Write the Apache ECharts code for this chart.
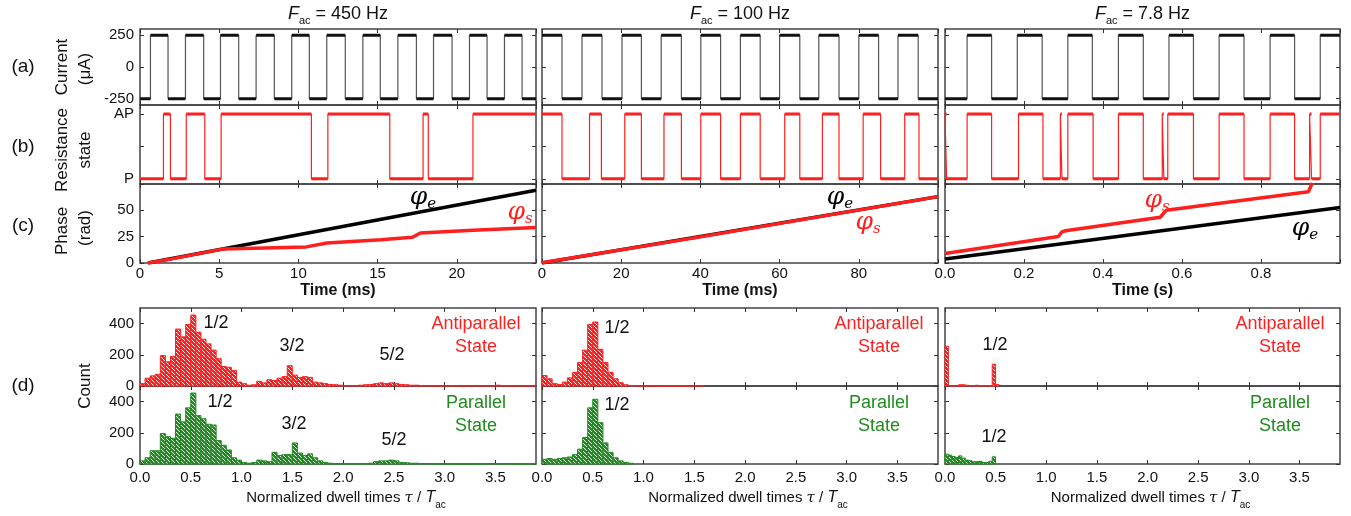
<!DOCTYPE html>
<html>
<head>
<meta charset="utf-8">
<script src="https://cdn.jsdelivr.net/npm/echarts@6/dist/echarts.min.js"></script>
<style>
  html, body { margin: 0; padding: 0; background: #fff; }
  #chart { width: 1351px; height: 516px; }
</style>
</head>
<body>
<div id="chart"></div>
<script>
// ---- data ----
const freqLabels = ['450 Hz', '100 Hz', '7.8 Hz'];
const timeTitles = ['Time (ms)', 'Time (ms)', 'Time (s)'];
const timeMax = [25, 100, 1.0];
const timeTicks = [[0, 5, 10, 15, 20, 25], [0, 20, 40, 60, 80, 100], [0, 0.2, 0.4, 0.6, 0.8, 1.0]];
const timeTickLabels = [[0, 5, 10, 15, 20], [0, 20, 40, 60, 80], [0, 0.2, 0.4, 0.6, 0.8]];

// (a) drive current: switching times, level toggles at each one
const currentLevels = [-250, 250];
const currentStartHigh = [false, true, false];
const currentEdges450 = [0.66, 1.77, 2.87, 4.02, 5.08, 6.23, 7.33, 8.48, 9.58, 10.69, 11.79, 12.96, 14.07, 15.17, 16.28, 17.45, 18.53, 19.70, 20.80, 21.91, 23.01, 24.12];
const currentEdges100 = [5.05, 10.1, 15.15, 20.2, 25.1, 30.1, 35.2, 40.1, 45.1, 50.1, 55.1, 60.0, 65.1, 69.9, 75.0, 80.0, 85.0, 89.9, 95.0];
const currentEdges78 = [0.056, 0.118, 0.183, 0.246, 0.311, 0.373, 0.439, 0.502, 0.567, 0.629, 0.694, 0.757, 0.823, 0.885, 0.95];

// (b) resistance state: P = 0, AP = 1
const stateStartAP = [false, true, true];
const stateEdges450 = [1.48, 1.92, 2.92, 4.09, 5.12, 10.82, 11.86, 15.77, 17.87, 18.20, 21.02];
const stateEdges100 = [5.05, 12.0, 15.0, 20.9, 25.1, 30.8, 35.2, 40.1, 45.1, 50.1, 55.1, 61.3, 65.1, 70.8, 75.0, 81.1, 85.5, 91.6, 95.2];
const stateEdges78 = [0.004, 0.056, 0.118, 0.186, 0.248, 0.292, 0.296, 0.311, 0.375, 0.439, 0.502, 0.55, 0.554, 0.564, 0.629, 0.694, 0.757, 0.823, 0.885, 0.923, 0.928, 0.95];

// (c) phases [time, rad]
const phiE450 = [[0.5, 0], [25, 69]];
const phiS450 = [[0.5, 0], [2, 3.9], [5.2, 13.2], [10.5, 15.3], [11.8, 19], [15.2, 22], [17.2, 24.5], [17.7, 28.5], [21, 31], [25, 33.8]];
const phiE100 = [[0, 0], [100, 63]];
const phiS100 = [[0, 0.3], [40, 24.8], [100, 63]];
const phiE78 = [[0, 3.9], [1.0, 52.6]];
const phiS78 = [[0, 9], [0.287, 25.2], [0.296, 29.5], [0.305, 30.6], [0.545, 43.5], [0.56, 50], [0.92, 67.7], [0.93, 76]];

// (d) dwell-time histograms, counts per bin starting at 0
const binWidth = [0.05, 0.05, 0.0333];
const histAP450 = [15, 50, 65, 75, 195, 155, 190, 365, 315, 395,
  455, 345, 300, 270, 230, 175, 125, 120, 100, 25,
  15, 5, 8, 30, 20, 40, 35, 50, 60, 130,
  70, 55, 60, 55, 25, 20, 15, 10, 8, 5,
  2, 3, 3, 5, 8, 10, 15, 20, 15, 20,
  15, 10, 8, 5, 5, 3, 2, 0, 0, 2,
  0, 3, 2, 0, 2, 3, 2, 0, 3, 2,
  5, 3, 2, 0, 3, 2, 0, 0];
const histP450 = [20, 40, 85, 85, 195, 175, 165, 320, 270, 360,
  455, 310, 290, 255, 250, 150, 120, 90, 40, 25,
  10, 5, 10, 25, 20, 15, 75, 55, 60, 60,
  135, 70, 55, 65, 40, 20, 10, 5, 3, 2,
  0, 2, 0, 3, 2, 5, 15, 20, 20, 25,
  20, 10, 8, 5, 5, 3, 2, 2, 0, 0,
  0, 0, 0, 0, 0, 0, 0, 0, 2, 3,
  3, 0, 3, 0, 0, 0, 0, 0];
const histAP100 = [67, 46, 15, 10, 25, 52, 88, 150, 230, 395, 410, 235, 150, 88, 46, 21, 8, 3, 2, 2,
  0, 0, 0, 0, 0, 0, 0, 0, 0, 0, 0, 3];
const histP100 = [30, 35, 30, 35, 40, 45, 60, 95, 170, 360, 415, 265, 135, 75, 40, 20, 10, 5];
const histAP78 = [255, 3, 3, 3, 8, 8, 5, 3, 3, 5, 3, 3, 3, 3, 140, 10];
const histP78 = [63, 57, 48, 42, 52, 38, 25, 21, 15, 15, 17, 10, 10, 17, 46];
const histTicks = [0, 0.5, 1.0, 1.5, 2.0, 2.5, 3.0, 3.5];
const countTicks = [0, 200, 400];

// ---- layout / style ----
const colLeft = [140, 542, 945];
const colWidth = [396, 396, 395];
const rowTop = [29, 105, 184, 308, 386];
const rowHeight = [76, 79, 79, 78, 78];
const RED = '#ff1f1f';
const GREEN = '#1e8c1e';
const FONT = 'Liberation Sans';
const labelFont = { fontFamily: FONT, fontSize: 15, color: '#111' };

function hatch(color) {
  const c = document.createElement('canvas');
  c.width = 4; c.height = 4;
  const g = c.getContext('2d');
  g.fillStyle = color;
  g.fillRect(0, 0, 4, 4);
  g.strokeStyle = 'rgba(255,255,255,0.9)';
  g.lineWidth = 1;
  g.beginPath();
  g.moveTo(0, 0); g.lineTo(4, 4);
  g.moveTo(-1, 3); g.lineTo(1, 5);
  g.moveTo(3, -1); g.lineTo(5, 1);
  g.stroke();
  return { image: c, repeat: 'repeat' };
}

function toSteps(edges, startHigh, levels, xmax) {
  let hi = startHigh;
  const pts = [[0, levels[hi ? 1 : 0]]];
  edges.forEach(t => {
    pts.push([t, levels[hi ? 1 : 0]]);
    hi = !hi;
    pts.push([t, levels[hi ? 1 : 0]]);
  });
  pts.push([xmax, levels[hi ? 1 : 0]]);
  return pts;
}

// flat parts only (pairs of step points), broken apart with '-'
function flatParts(pts) {
  const out = [];
  for (let i = 0; i + 1 < pts.length; i += 2) {
    out.push(pts[i], pts[i + 1], '-');
  }
  return out;
}

function toBins(counts, w) {
  return counts.map((c, i) => [i * w, (i + 1) * w, c]);
}

const grids = [], xAxes = [], yAxes = [], series = [];
const tick = { show: true, inside: true, length: 4, lineStyle: { color: '#333', width: 1 } };

function addPanel(row, col, x, y) {
  const g = grids.length;
  grids.push({ left: colLeft[col], top: rowTop[row], width: colWidth[col], height: rowHeight[row],
    show: true, borderColor: '#444', borderWidth: 1.5, backgroundColor: 'transparent' });
  const base = { type: 'value', gridIndex: g, axisLine: { show: false, onZero: false }, splitLine: { show: false } };
  xAxes.push(Object.assign({}, base, { min: x.min, max: x.max, position: 'bottom',
    axisTick: Object.assign({}, tick, { customValues: x.ticks }),
    axisLabel: x.labels ? Object.assign({ customValues: x.labels, formatter: x.fmt, margin: x.margin }, labelFont, x.font || {}) : { show: false } }));
  xAxes.push(Object.assign({}, base, { min: x.min, max: x.max, position: 'top',
    axisTick: Object.assign({}, tick, { customValues: x.ticks }), axisLabel: { show: false } }));
  yAxes.push(Object.assign({}, base, { min: y.min, max: y.max, position: 'left',
    axisTick: Object.assign({}, tick, { customValues: y.ticks }),
    axisLabel: y.labels ? Object.assign({ customValues: y.labels, formatter: y.fmt, margin: 6 }, labelFont) : { show: false } }));
  yAxes.push(Object.assign({}, base, { min: y.min, max: y.max, position: 'right',
    axisTick: Object.assign({}, tick, { customValues: y.ticks }), axisLabel: { show: false } }));
  return g;
}

function stepSeries(g, pts, color, thinColor) {
  series.push({ type: 'line', xAxisIndex: 2 * g, yAxisIndex: 2 * g, symbol: 'none', animation: false,
    data: pts, lineStyle: { color: thinColor, width: 1.2 } });
  series.push({ type: 'line', xAxisIndex: 2 * g, yAxisIndex: 2 * g, symbol: 'none', animation: false,
    data: flatParts(pts), connectNulls: false, lineStyle: { color: color, width: 3 } });
}

const currentEdges = [currentEdges450, currentEdges100, currentEdges78];
const stateEdges = [stateEdges450, stateEdges100, stateEdges78];
const phiE = [phiE450, phiE100, phiE78];
const phiS = [phiS450, phiS100, phiS78];
const histAP = [histAP450, histAP100, histAP78];
const histP = [histP450, histP100, histP78];
const timeFmt = [v => String(v), v => String(v), v => v.toFixed(1)];

for (let col = 0; col < 3; col++) {
  const tx = { min: 0, max: timeMax[col], ticks: timeTicks[col] };
  const first = col === 0;

  // (a) current
  let g = addPanel(0, col, tx, { min: -300, max: 300, ticks: [-250, 0, 250],
    labels: first ? [-250, 0, 250] : null, fmt: v => String(v) });
  stepSeries(g, toSteps(currentEdges[col], currentStartHigh[col], currentLevels, timeMax[col]), '#111', '#555');

  // (b) state
  g = addPanel(1, col, tx, { min: -0.08, max: 1.14, ticks: [0, 0.5, 1],
    labels: first ? [0, 1] : null, fmt: v => (v === 1 ? 'AP' : 'P') });
  stepSeries(g, toSteps(stateEdges[col], stateStartAP[col], [0, 1], timeMax[col]), RED, RED);

  // (c) phase
  g = addPanel(2, col, Object.assign({}, tx, { labels: timeTickLabels[col], fmt: timeFmt[col], margin: 3 }),
    { min: 0, max: 75, ticks: [0, 25, 50, 75], labels: first ? [0, 25, 50] : null, fmt: v => String(v) });
  series.push({ type: 'line', xAxisIndex: 2 * g, yAxisIndex: 2 * g, symbol: 'none', animation: false,
    data: phiE[col], lineStyle: { color: '#000', width: 3.5 } });
  series.push({ type: 'line', xAxisIndex: 2 * g, yAxisIndex: 2 * g, symbol: 'none', animation: false,
    data: phiS[col], lineStyle: { color: RED, width: 3.5 } });

  // (d) histograms
  const hx = { min: 0, max: 3.9, ticks: histTicks };
  const hy = { min: 0, max: 500, ticks: countTicks, labels: first ? countTicks : null, fmt: v => String(v) };
  [[3, histAP[col], RED], [4, histP[col], GREEN]].forEach(([row, counts, color]) => {
    const xopt = row === 4 ? Object.assign({}, hx, { labels: histTicks, fmt: v => v.toFixed(1), margin: 6 }) : hx;
    const gi = addPanel(row, col, xopt, hy);
    const fill = hatch(color);
    series.push({ type: 'custom', xAxisIndex: 2 * gi, yAxisIndex: 2 * gi, animation: false,
      data: toBins(counts, binWidth[col]), encode: { x: [0, 1], y: 2 },
      renderItem: (params, api) => {
        const p0 = api.coord([api.value(0), api.value(2)]);
        const p1 = api.coord([api.value(1), 0]);
        return { type: 'rect', shape: { x: p0[0], y: p0[1], width: p1[0] - p0[0], height: p1[1] - p0[1] },
          style: { fill: fill, stroke: color, lineWidth: 1 } };
      } });
  });
}

// ---- text ----
const colCenter = colLeft.map((l, i) => l + colWidth[i] / 2);
const graphics = [];
function txt(x, y, text, extra, rot) {
  graphics.push({ type: 'text', x: x, y: y, rotation: rot || 0, silent: true,
    style: Object.assign({ text: text, align: 'center', verticalAlign: 'middle',
      fontFamily: FONT, fontSize: 17, fill: '#111' }, extra || {}) });
}
const subRich = {
  i: { fontFamily: FONT, fontStyle: 'italic', fontSize: 18, fill: '#111', lineHeight: 24 },
  s: { fontFamily: FONT, fontSize: 11, fill: '#111', verticalAlign: 'bottom', lineHeight: 24 },
  n: { fontFamily: FONT, fontSize: 18, fill: '#111', lineHeight: 24 }
};
freqLabels.forEach((f, i) => txt(colCenter[i], 14, '{i|F}{s|ac}{n| = ' + f + '}', { rich: subRich }));
timeTitles.forEach((t, i) => txt(colCenter[i], 291, t, { fontSize: 16, fontWeight: 'bold' }));
const dwellRich = {
  n: { fontFamily: FONT, fontSize: 15, fill: '#111', lineHeight: 20 },
  t: { fontFamily: 'DejaVu Serif', fontStyle: 'italic', fontSize: 15, fill: '#111', lineHeight: 20 },
  i: { fontFamily: FONT, fontStyle: 'italic', fontSize: 16, fill: '#111', lineHeight: 20 },
  s: { fontFamily: FONT, fontSize: 10, fill: '#111', verticalAlign: 'bottom', lineHeight: 24 }
};
colCenter.forEach(c => txt(c + 8, 498, '{n|Normalized dwell times }{t|τ}{n| / }{i|T}{s|ac}', { rich: dwellRich }));

[['(a)', 67], ['(b)', 147], ['(c)', 226], ['(d)', 386]].forEach(([t, y]) => txt(23, y, t, { fontSize: 19 }));
txt(62, 67, 'Current', {}, Math.PI / 2);
txt(85, 69, '(μA)', {}, Math.PI / 2);
txt(62, 150, 'Resistance', {}, Math.PI / 2);
txt(85, 150, 'state', {}, Math.PI / 2);
txt(62, 231, 'Phase', {}, Math.PI / 2);
txt(85, 228, '(rad)', {}, Math.PI / 2);
txt(85, 386, 'Count', {}, Math.PI / 2);

function phiRich(color) {
  return {
    p: { fontFamily: 'DejaVu Serif', fontStyle: 'italic', fontSize: 25, fill: color, lineHeight: 30 },
    s: { fontFamily: 'DejaVu Serif', fontStyle: 'italic', fontSize: 15, fill: color, verticalAlign: 'bottom', lineHeight: 30 }
  };
}
[[423, 197, 'e', '#000'], [520, 212, 's', RED], [840, 197, 'e', '#000'], [868, 222, 's', RED],
 [1157, 200, 's', RED], [1305, 228, 'e', '#000']].forEach(([x, y, s, c]) =>
  txt(x, y, '{p|φ}{s|' + s + '}', { rich: phiRich(c) }));

const annFont = { fontSize: 18 };
[[216, 323, '1/2'], [292, 346, '3/2'], [392, 355, '5/2'], [220, 402, '1/2'], [294, 424, '3/2'], [394, 440, '5/2'],
 [617, 328, '1/2'], [617, 405, '1/2'], [995, 345, '1/2'], [994, 437, '1/2']].forEach(([x, y, t]) => txt(x, y, t, annFont));
[476, 879, 1280].forEach(x => {
  txt(x, 336, 'Antiparallel\nState', { fontSize: 18, fill: RED, lineHeight: 23 });
  txt(x, 415, 'Parallel\nState', { fontSize: 18, fill: GREEN, lineHeight: 23 });
});

const chart = echarts.init(document.getElementById('chart'));
chart.setOption({
  animation: false,
  grid: grids,
  xAxis: xAxes,
  yAxis: yAxes,
  series: series,
  graphic: graphics
});
</script>
</body>
</html>
